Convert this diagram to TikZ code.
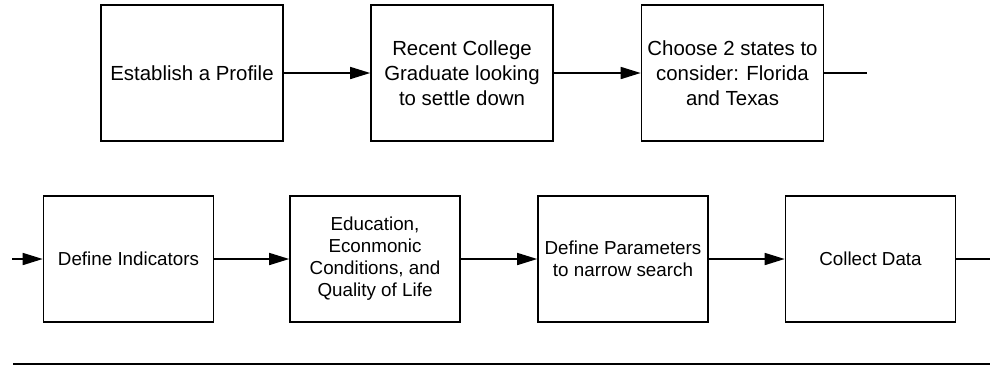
\documentclass[tikz,border=0pt]{standalone}
\usepackage{fontspec}
\setmainfont{Liberation Sans}
\usetikzlibrary{arrows.meta}
\tikzset{
  stepbox/.style={draw, line width=0.8pt, inner sep=0pt, align=center},
  bigbox/.style={stepbox, minimum width=91pt, minimum height=68pt, font=\fontsize{10.2}{12.5}\selectfont},
  smallbox/.style={stepbox, minimum width=85pt, minimum height=63pt, font=\fontsize{9.4}{11}\selectfont},
  flow/.style={line width=0.8pt, -{Triangle[length=10pt,width=6pt]}}
}
\begin{document}
\begin{tikzpicture}[x=0.5pt,y=-0.5pt]
\useasboundingbox (0,0) rectangle (990,366);
%
\node[bigbox] (profile) at (192,73) {Establish a Profile};
\node[bigbox] (graduate) at (462,73) {Recent College\\Graduate looking\\to settle down};
\node[bigbox] (states) at (732.5,73) {Choose 2 states to\\consider: Florida\\and Texas};
\coordinate (rowend) at (867,73);
%
\coordinate (rowstart) at (12,259);
\node[smallbox] (indicators) at (128.5,259) {Define Indicators};
\node[smallbox] (quality) at (375,259) {Education,\\Econmonic\\Conditions, and\\Quality of Life};
\node[smallbox] (params) at (623,259) {Define Parameters\\to narrow search};
\node[smallbox] (collect) at (870.5,259) {Collect Data};
\coordinate (collectend) at (990,259);
%
\coordinate (baseleft) at (13,364);
\coordinate (baseright) at (990,364);
%
\draw[flow] (profile.east) -- (graduate.west);
\draw[flow] (graduate.east) -- (states.west);
\draw[line width=0.8pt] (states.east) -- (rowend);
\draw[flow] (rowstart) -- (indicators.west);
\draw[flow] (indicators.east) -- (quality.west);
\draw[flow] (quality.east) -- (params.west);
\draw[flow] (params.east) -- (collect.west);
\draw[line width=0.8pt] (collect.east) -- (collectend);
%
\draw[line width=0.8pt] (baseleft) -- (baseright);
\end{tikzpicture}
\end{document}
